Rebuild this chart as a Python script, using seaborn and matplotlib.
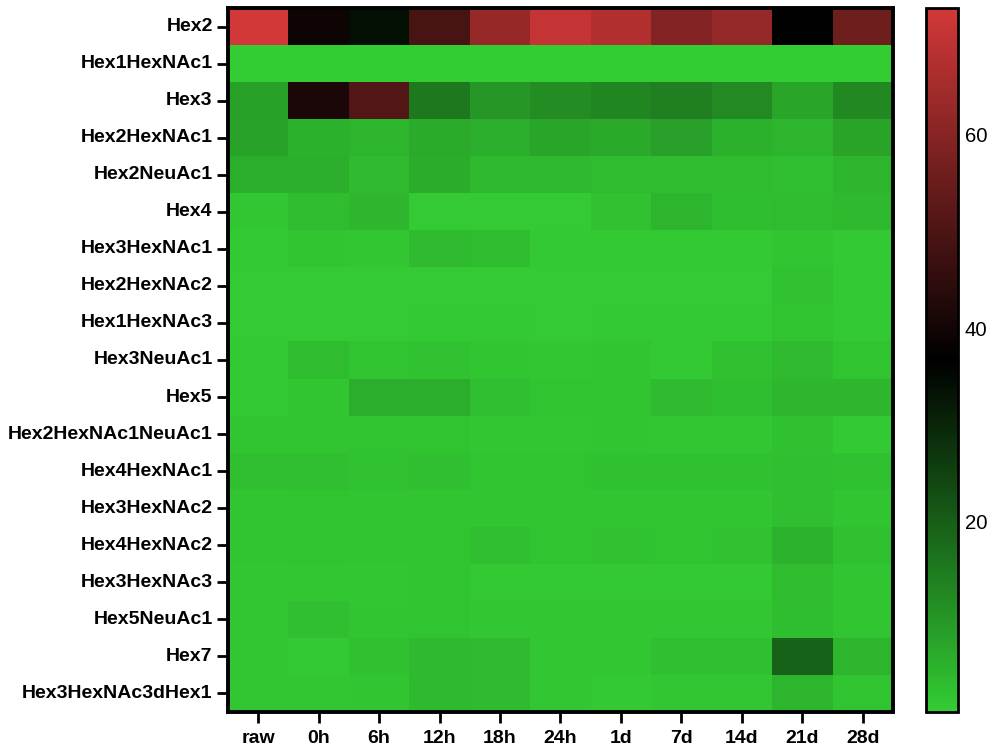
import numpy as np
import pandas as pd
import matplotlib
matplotlib.use("Agg")
import matplotlib.pyplot as plt
from matplotlib.colors import LinearSegmentedColormap
import seaborn as sns

timepoints = ["raw", "0h", "6h", "12h", "18h", "24h", "1d", "7d", "14d", "21d", "28d"]
glycans = [
    "Hex2", "Hex1HexNAc1", "Hex3", "Hex2HexNAc1", "Hex2NeuAc1", "Hex4",
    "Hex3HexNAc1", "Hex2HexNAc2", "Hex1HexNAc3", "Hex3NeuAc1", "Hex5",
    "Hex2HexNAc1NeuAc1", "Hex4HexNAc1", "Hex3HexNAc2", "Hex4HexNAc2",
    "Hex3HexNAc3", "Hex5NeuAc1", "Hex7", "Hex3HexNAc3dHex1",
]

hex2 =              [73.1, 39.0, 34.0, 49.0, 62.8, 70.8, 67.2, 59.4, 62.5, 36.5, 55.9]
hex1hexnac1 =       [0.35, 0.35, 0.35, 0.35, 0.35, 0.35, 0.35, 0.35, 0.35, 0.35, 0.35]
hex3 =              [8.1, 41.4, 50.7, 15.2, 9.8, 12.0, 13.1, 14.0, 12.2, 7.2, 12.5]
hex2hexnac1 =       [8.0, 5.4, 4.5, 6.6, 5.9, 7.2, 6.8, 8.4, 5.2, 4.5, 7.5]
hex2neuac1 =        [5.9, 5.6, 3.6, 6.2, 3.9, 3.9, 3.2, 3.4, 3.4, 2.7, 4.5]
hex4 =              [1.4, 3.2, 4.2, 0.9, 0.9, 0.9, 2.3, 4.5, 3.0, 3.4, 4.0]
hex3hexnac1 =       [1.2, 1.5, 1.3, 3.6, 3.4, 1.0, 1.0, 1.0, 1.0, 1.5, 1.0]
hex2hexnac2 =       [0.8, 0.8, 0.9, 0.9, 0.9, 0.8, 0.9, 0.9, 0.9, 2.2, 1.0]
hex1hexnac3 =       [0.8, 0.8, 0.9, 1.0, 1.0, 0.9, 1.1, 1.0, 1.0, 1.8, 1.0]
hex3neuac1 =        [1.2, 3.2, 1.5, 2.3, 1.6, 1.4, 1.5, 1.2, 2.4, 3.6, 1.8]
hex5 =              [1.0, 1.5, 6.0, 6.0, 2.8, 1.8, 1.8, 3.5, 3.0, 4.2, 4.2]
hex2hexnac1neuac1 = [1.5, 1.5, 1.8, 1.8, 1.4, 1.4, 1.5, 1.3, 1.4, 2.6, 1.2]
hex4hexnac1 =       [2.8, 2.8, 2.3, 2.8, 2.0, 2.0, 2.5, 2.5, 2.5, 2.8, 2.5]
hex3hexnac2 =       [1.5, 1.8, 1.6, 1.6, 1.6, 1.6, 1.6, 1.5, 1.5, 2.8, 1.6]
hex4hexnac2 =       [1.5, 1.8, 1.6, 1.8, 2.8, 1.8, 2.3, 1.8, 2.3, 5.0, 2.5]
hex3hexnac3 =       [1.4, 1.4, 1.4, 1.8, 1.2, 1.2, 1.2, 1.2, 1.2, 3.2, 1.6]
hex5neuac1 =        [1.4, 2.8, 1.5, 1.8, 1.3, 1.3, 1.3, 1.3, 1.3, 3.0, 1.6]
hex7 =              [1.3, 1.1, 2.5, 4.0, 3.5, 1.3, 1.3, 2.8, 2.8, 19.5, 4.5]
hex3hexnac3dhex1 =  [1.4, 1.4, 1.6, 4.0, 3.5, 1.4, 1.2, 1.4, 1.4, 4.5, 1.8]

rows = [hex2, hex1hexnac1, hex3, hex2hexnac1, hex2neuac1, hex4, hex3hexnac1,
        hex2hexnac2, hex1hexnac3, hex3neuac1, hex5, hex2hexnac1neuac1,
        hex4hexnac1, hex3hexnac2, hex4hexnac2, hex3hexnac3, hex5neuac1,
        hex7, hex3hexnac3dhex1]
data = pd.DataFrame(rows, index=glycans, columns=timepoints)

# low = green, middle = black, high = red
cmap = LinearSegmentedColormap.from_list("green_black_red", ["#33CC33", "#000000", "#D23838"])

sns.set_style("white")
plt.rcParams["font.family"] = ["Liberation Sans", "DejaVu Sans"]
plt.rcParams["text.color"] = "black"
plt.rcParams["xtick.color"] = "black"
plt.rcParams["ytick.color"] = "black"

W, H = 995, 751
fig = plt.figure(figsize=(W / 100, H / 100), dpi=100)
ax = fig.add_axes([228 / W, (H - 712) / H, (893 - 228) / W, (712 - 8) / H])
cax = fig.add_axes([926 / W, (H - 712) / H, 32 / W, (712 - 8) / H])

sns.heatmap(data, ax=ax, cbar_ax=cax, cmap=cmap,
            vmin=data.values.min(), vmax=data.values.max(),
            linewidths=0, cbar_kws={"ticks": [20, 40, 60]})

for s in ax.spines.values():
    s.set_visible(True)
    s.set_linewidth(2.8)
    s.set_color("black")

ax.tick_params(axis="x", bottom=True, direction="out", length=8, width=2,
               color="black", labelcolor="black", labelsize=14, pad=5)
ax.tick_params(axis="y", left=True, direction="out", length=8, width=2,
               color="black", labelcolor="black", labelsize=14, pad=3)
ax.set_xticklabels(timepoints, rotation=0, fontweight="bold")
ax.set_yticklabels(glycans, rotation=0, fontweight="bold")
ax.set_xlabel("")
ax.set_ylabel("")

cbar = ax.collections[0].colorbar
cbar.outline.set_linewidth(2)
cbar.outline.set_edgecolor("black")
cax.yaxis.set_ticks_position("both")
cax.tick_params(axis="y", left=True, right=True, direction="in", length=5, width=1.5,
                color="black", labelcolor="black", labelsize=14.7,
                labelright=True, labelleft=False, pad=5)

fig.savefig("out.png", dpi=100)
